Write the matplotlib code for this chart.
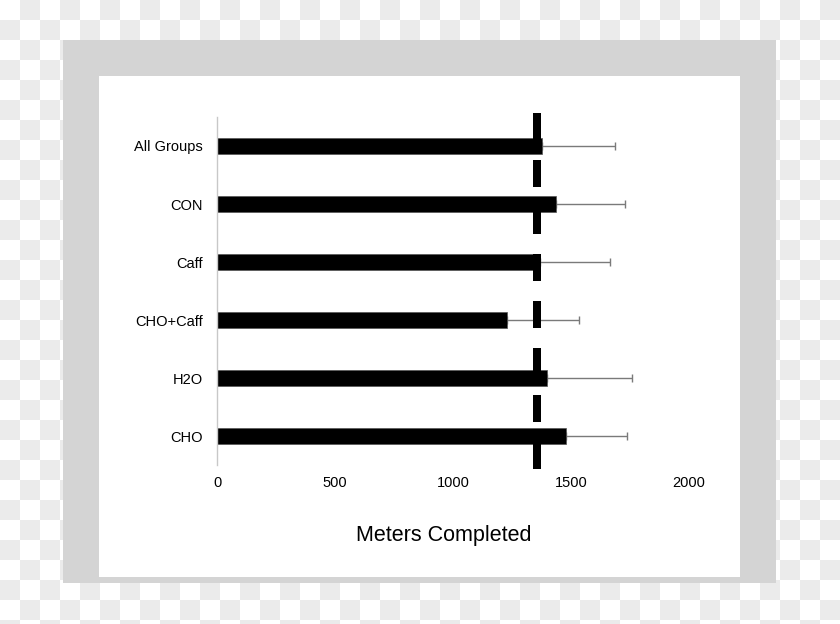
import numpy as np
import matplotlib
matplotlib.use("Agg")
import matplotlib.pyplot as plt
from matplotlib.patches import Rectangle

plt.rcParams['font.family'] = ['Liberation Sans', 'DejaVu Sans']

# data, bottom to top
groups = ['CHO', 'H2O', 'CHO+Caff', 'Caff', 'CON', 'All Groups']
meters = [1480, 1397, 1229, 1369, 1436, 1376]
sd = [256, 363, 306, 296, 294, 310]
ref_line = 1357
xticks = [0, 500, 1000, 1500, 2000]

W, H = 840, 624
fig = plt.figure(figsize=(W / 100, H / 100), dpi=100)

# backdrop: checkerboard, grey frame, white panel (pixel coords)
bg = fig.add_axes([0, 0, 1, 1], zorder=0)
bg.axis('off')
nr, nc = int(np.ceil(H / 20)) + 1, W // 20
checker = (np.indices((nr, nc)).sum(axis=0) % 2).astype(float)
bg.imshow(checker, cmap=matplotlib.colors.ListedColormap(['white', '#ebebeb']),
          extent=(0, nc * 20, nr * 20, 0), interpolation='nearest', aspect='auto')
bg.set_xlim(0, W)
bg.set_ylim(H, 0)
bg.add_patch(Rectangle((63, 40), 713, 543, color='#d4d4d4', lw=0))
bg.add_patch(Rectangle((99, 76), 641, 501, color='white', lw=0))

# main chart
ax = fig.add_axes([217 / W, 1 - 465 / H, (689 - 217) / W, (465 - 117) / H], zorder=1)
ax.patch.set_alpha(0)
y = np.arange(len(groups))
ax.barh(y, meters, height=0.26, color='black', edgecolor='#555555', linewidth=0.5, zorder=2)
ax.errorbar(meters, y, xerr=[np.zeros(len(sd)), sd], fmt='none', ecolor='#7a7a7a',
            elinewidth=1, capsize=3, capthick=1, zorder=1)

# dashed reference line, runs a bit past the axes
ax.plot([ref_line, ref_line], [5.57, -0.60], color='black', linewidth=5.76,
        dashes=(3.375, 2.5), solid_capstyle='butt', dash_capstyle='butt',
        clip_on=False, zorder=3)

ax.set_xlim(0, 2000)
ax.set_ylim(-0.5, 5.5)
ax.set_yticks(y)
ax.set_yticklabels(groups, fontsize=10.5)
ax.set_xticks(xticks)
ax.set_xticklabels([str(t) for t in xticks], fontsize=10.5)
ax.tick_params(axis='both', length=0)
ax.tick_params(axis='y', pad=10)
ax.tick_params(axis='x', pad=8)
for s in ['top', 'right', 'bottom']:
    ax.spines[s].set_visible(False)
ax.spines['left'].set_color('#c8c8c8')
ax.spines['left'].set_linewidth(1)
ax.text((444 - 217) / 472, (465 - 535) / 348, 'Meters Completed', fontsize=15.5,
        ha='center', va='center', transform=ax.transAxes)

fig.savefig('out.png', dpi=100)
